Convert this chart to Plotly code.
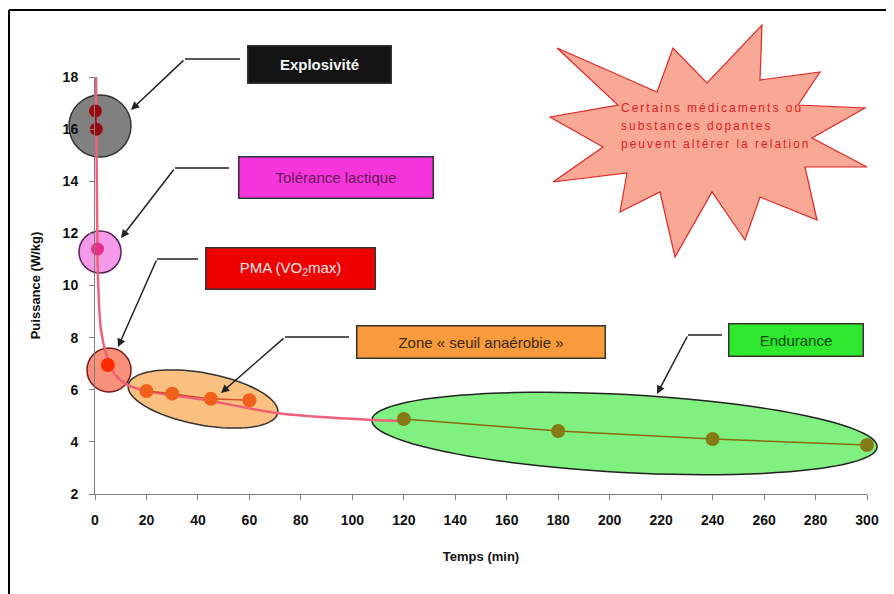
import numpy as np
import plotly.graph_objects as go

# ---------------- data ----------------
explo_t = [0.17, 0.5]
explo_p = [16.7, 16.0]
lact_t = [1]
lact_p = [11.4]
pma_t = [5]
pma_p = [6.95]
seuil_t = [20, 30, 45, 60]
seuil_p = [5.95, 5.85, 5.65, 5.6]
endu_t = [120, 180, 240, 300]
endu_p = [4.88, 4.42, 4.11, 3.88]
curve_t = [0.4, 0.7, 1.2, 2.3, 4.7, 7.8, 12.8, 20, 45, 71, 108, 120]
curve_p = [18.0, 14.0, 10.2, 8.3, 7.26, 6.57, 6.18, 5.95, 5.57, 5.1, 4.84, 4.8]
x_ticks = list(range(0, 301, 20))
y_ticks = list(range(2, 19, 2))
star_lines = ["Certains médicaments ou", "substances dopantes", "peuvent altérer la relation"]

# ---------------- layout geometry ----------------
W, H = 894, 594
OFF = 8  # page body margin
PX0, PY0, PW, PH = 95, 77, 772, 417  # plot area on screen
L, T = PX0 - OFF, PY0 - OFF
R, B = W - L - PW, H - T - PH
FONT = "Liberation Sans, Arial, sans-serif"


def px(x):
    return (x - PX0) / PW


def py(y):
    return (PY0 + PH - y) / PH


def poly_path(pts):
    s = "M " + " L ".join(f"{px(x):.5f},{py(y):.5f}" for x, y in pts)
    return s + " Z"


def ellipse_path(cx, cy, a, b, ang):
    phi = np.radians(ang)
    th = np.linspace(0, 2 * np.pi, 97)[:-1]
    xs = cx + a * np.cos(th) * np.cos(phi) - b * np.sin(th) * np.sin(phi)
    ys = cy + a * np.cos(th) * np.sin(phi) + b * np.sin(th) * np.cos(phi)
    return poly_path(list(zip(xs, ys)))


def circle(cx, cy, r, fill, line):
    return dict(type="circle", xref="paper", yref="paper", layer="below",
                x0=px(cx - r), x1=px(cx + r), y0=py(cy + r), y1=py(cy - r),
                fillcolor=fill, line=dict(color=line, width=1.5))


fig = go.Figure()

# fitted curve
fig.add_trace(go.Scatter(x=curve_t, y=curve_p, mode="lines",
                         line=dict(color="#f0607a", width=2.5, shape="spline", smoothing=0.8),
                         cliponaxis=False, showlegend=False, hoverinfo="skip"))
# zones
fig.add_trace(go.Scatter(x=explo_t, y=explo_p, mode="lines+markers",
                         line=dict(color="#7a0a10", width=1.5),
                         marker=dict(size=13, color="#9b0a14"), cliponaxis=False, showlegend=False))
fig.add_trace(go.Scatter(x=lact_t, y=lact_p, mode="markers",
                         marker=dict(size=13, color="#e8308a"), cliponaxis=False, showlegend=False))
fig.add_trace(go.Scatter(x=pma_t, y=pma_p, mode="markers",
                         marker=dict(size=14, color="#ff2a00"), cliponaxis=False, showlegend=False))
fig.add_trace(go.Scatter(x=seuil_t, y=seuil_p, mode="lines+markers",
                         line=dict(color="#d2502a", width=1.5),
                         marker=dict(size=14, color="#f0601a"), cliponaxis=False, showlegend=False))
fig.add_trace(go.Scatter(x=endu_t, y=endu_p, mode="lines+markers",
                         line=dict(color="#8a6a10", width=1.5),
                         marker=dict(size=14, color="#857a14"), cliponaxis=False, showlegend=False))

# ---------------- decorations ----------------
star_pts = [(557, 48), (657, 92), (673, 48), (707, 83), (762, 25), (760, 80), (820, 72),
            (798, 105), (865, 108), (812, 138), (867, 167), (805, 167), (817, 220),
            (760, 197), (745, 240), (712, 192), (675, 257), (660, 192), (620, 212),
            (627, 173), (553, 182), (603, 147), (550, 117), (618, 105)]

shapes = [
    # frame lines
    dict(type="line", xref="paper", yref="paper", x0=px(9), x1=px(9), y0=py(10), y1=py(H + 20),
         line=dict(color="black", width=2)),
    dict(type="line", xref="paper", yref="paper", x0=px(9), x1=px(W + 20), y0=py(10), y1=py(10),
         line=dict(color="black", width=2)),
    # star
    dict(type="path", xref="paper", yref="paper", layer="below", path=poly_path(star_pts),
         fillcolor="#f9a896", line=dict(color="#e02828", width=1.2)),
    circle(100, 126, 31, "#808080", "#333333"),
    circle(100, 252, 21, "#f59ae8", "#602060"),
    circle(109, 370, 22, "#f8907a", "#7a1a1a"),
    dict(type="path", xref="paper", yref="paper", layer="below",
         path=ellipse_path(203, 399, 76, 26, 10.6), fillcolor="#fac080",
         line=dict(color="#333333", width=1.5)),
    dict(type="path", xref="paper", yref="paper", layer="below",
         path=ellipse_path(624.5, 433.5, 253, 39, 3.06), fillcolor="#80f080",
         line=dict(color="#222222", width=1.5)),
]

# callout boxes: (text, cx, cy, w, h, bg, textcolor, bold)
boxes = [
    ("Explosivité", 319, 65, 144, 38, "#141414", "#f0f4f4", True),
    ("Tolérance lactique", 335.5, 177, 195, 42, "#f535dc", "#6a1a5a", False),
    ("PMA (VO<sub>2</sub>max)", 290, 268, 170, 42, "#ee0000", "#ffe8e8", False),
    ("Zone « seuil anaérobie »", 480.5, 341.5, 249, 33, "#f99a3c", "#3a2a10", False),
    ("Endurance", 795.5, 339.5, 135, 33, "#2ee82e", "#0a4a0a", False),
]
# arrows: (box edge x, elbow x, elbow y, head x, head y)
arrows = [
    (240, 185, 59, 131, 110),
    (229, 175, 168, 121, 238),
    (198, 157, 259, 118, 347),
    (349, 285, 337, 221, 393),
    (722, 688, 335, 657, 394),
]

annotations = []
for text, cx, cy, w, h, bg, tc, bold in boxes:
    annotations.append(dict(text=text, xref="paper", yref="paper", x=px(cx), y=py(cy),
                            xanchor="center", yanchor="middle", showarrow=False,
                            width=w - 2, height=h - 2, bgcolor=bg, bordercolor="#333333",
                            borderwidth=1.5, borderpad=0,
                            font=dict(family=FONT, size=15, color=tc,
                                      weight="bold" if bold else "normal")))
for bx, ex, ey, hx, hy in arrows:
    shapes.append(dict(type="line", xref="paper", yref="paper", x0=px(ex), x1=px(bx),
                       y0=py(ey), y1=py(ey), line=dict(color="#222222", width=1.5)))
    annotations.append(dict(text="", xref="paper", yref="paper", x=px(hx), y=py(hy),
                            ax=ex - hx, ay=ey - hy, axref="pixel", ayref="pixel",
                            showarrow=True, arrowhead=2, arrowsize=1.1, arrowwidth=1.5,
                            arrowcolor="#222222", standoff=0))
for i, line in enumerate(star_lines):
    annotations.append(dict(text=f'<span style="letter-spacing:2px">{line}</span>',
                            xref="paper", yref="paper", x=px(619), y=py(108 + 18 * i),
                            xanchor="left", yanchor="middle", showarrow=False,
                            font=dict(family=FONT, size=12, color="#e02020")))

axis_common = dict(showline=True, linecolor="#808080", linewidth=1, ticks="outside",
                   ticklen=5, tickcolor="#808080", showgrid=False, zeroline=False,
                   tickfont=dict(family=FONT, size=14, color="#111111", weight="bold"),
                   ticklabelstandoff=8)

fig.update_layout(
    width=W, height=H, autosize=False,
    margin=dict(l=L, r=R, t=T, b=B, pad=0),
    paper_bgcolor="white", plot_bgcolor="white",
    showlegend=False,
    xaxis=dict(range=[0, 300], tickvals=x_ticks, **axis_common,
               title=dict(text="Temps (min)", standoff=25,
                          font=dict(family=FONT, size=13, color="#111111", weight="bold"))),
    yaxis=dict(range=[2, 18], tickvals=y_ticks, **axis_common,
               title=dict(text="Puissance (W/kg)", standoff=19,
                          font=dict(family=FONT, size=13, color="#111111", weight="bold"))),
    shapes=shapes,
    annotations=annotations,
)

fig.write_html("out.html")
